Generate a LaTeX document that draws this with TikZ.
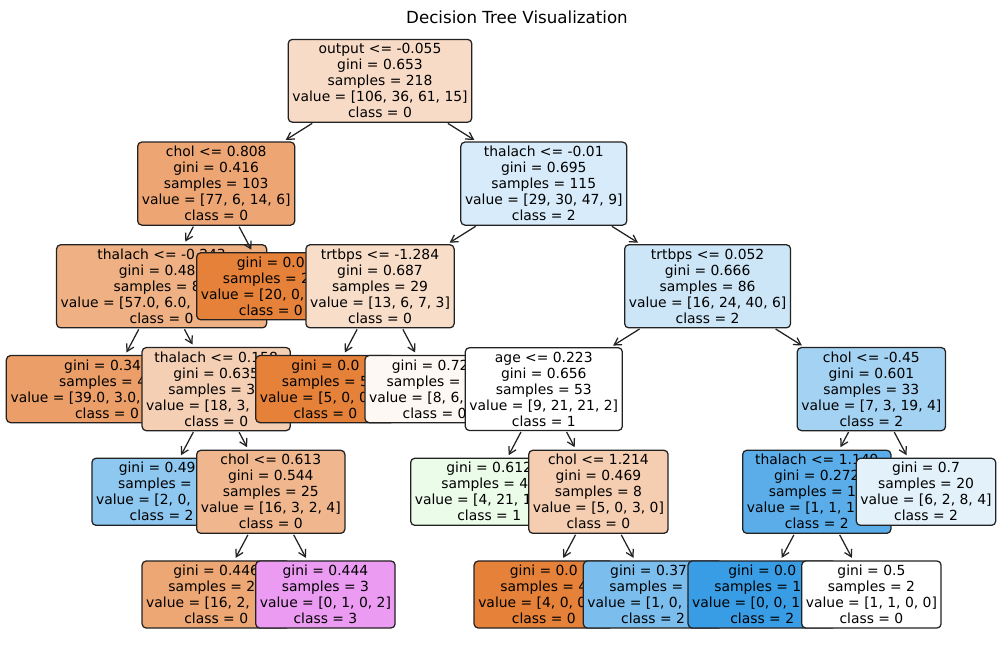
\documentclass[tikz,border=0pt]{standalone}
\usepackage{fontspec}
\setmainfont{DejaVu Sans}
\usetikzlibrary{arrows.meta}
\definecolor{cA}{RGB}{248,219,198}
\definecolor{cB}{RGB}{237,166,115}
\definecolor{cC}{RGB}{215,235,250}
\definecolor{cD}{RGB}{239,177,132}
\definecolor{cOr}{RGB}{229,129,57}
\definecolor{cE}{RGB}{248,221,201}
\definecolor{cF}{RGB}{204,230,248}
\definecolor{cG}{RGB}{235,158,103}
\definecolor{cH}{RGB}{245,207,179}
\definecolor{cI}{RGB}{253,248,243}
\definecolor{cJ}{RGB}{164,210,243}
\definecolor{cK}{RGB}{142,199,240}
\definecolor{cL}{RGB}{240,183,142}
\definecolor{cM}{RGB}{235,252,233}
\definecolor{cN}{RGB}{245,205,176}
\definecolor{cP}{RGB}{90,173,233}
\definecolor{cQ}{RGB}{227,241,251}
\definecolor{cR}{RGB}{237,167,116}
\definecolor{cS}{RGB}{235,156,242}
\definecolor{cT}{RGB}{123,190,238}
\definecolor{cBl}{RGB}{57,157,229}
\definecolor{edgec}{RGB}{34,34,34}
\tikzset{
  tn/.style={draw=edgec, line width=0.9pt, rounded corners=3pt, align=center,
    inner xsep=3pt, inner ysep=3pt, font=\fontsize{10}{11.52}\selectfont},
  edge/.style={draw=edgec, -{Straight Barb[length=5pt,width=5.8pt]}, line width=0.9pt,
    shorten >=2pt, shorten <=0.7pt}
}
\begin{document}
\begin{tikzpicture}[x=0.72pt,y=-0.72pt]
\useasboundingbox (0,0) rectangle (1002,656);
\node[font=\fontsize{12}{14}\selectfont] (title) at (517,17) {Decision Tree Visualization};
% preorder drawing
\node[tn, fill=cA] (n0) at (380,80.8) {output <= -0.055\\gini = 0.653\\samples = 218\\value = [106, 36, 61, 15]\\class = 0};
\node[tn, fill=cB] (n1) at (216.2,183.6) {chol <= 0.808\\gini = 0.416\\samples = 103\\value = [77, 6, 14, 6]\\class = 0};
\node[tn, fill=cD] (n3) at (161.6,286.3) {thalach <= -0.243\\gini = 0.489\\samples = 83\\value = [57.0, 6.0, 14.0, 6.0]\\class = 0};
\node[tn, fill=cG] (n7) at (107,389.1) {gini = 0.347\\samples = 49\\value = [39.0, 3.0, 6.0, 1.0]\\class = 0};
\node[tn, fill=cH] (n8) at (216.2,389.1) {thalach <= 0.158\\gini = 0.635\\samples = 34\\value = [18, 3, 8, 5]\\class = 0};
\node[tn, fill=cK] (n13) at (161.6,491.8) {gini = 0.494\\samples = 9\\value = [2, 0, 6, 1]\\class = 2};
\node[tn, fill=cL] (n14) at (270.8,491.8) {chol <= 0.613\\gini = 0.544\\samples = 25\\value = [16, 3, 2, 4]\\class = 0};
\node[tn, fill=cR] (n19) at (216.2,594.5) {gini = 0.446\\samples = 22\\value = [16, 2, 2, 2]\\class = 0};
\node[tn, fill=cS] (n20) at (325.4,594.5) {gini = 0.444\\samples = 3\\value = [0, 1, 0, 2]\\class = 3};
\node[tn, fill=cOr] (n4) at (270.8,286.3) {gini = 0.0\\samples = 20\\value = [20, 0, 0, 0]\\class = 0};
\node[tn, fill=cC] (n2) at (543.8,183.6) {thalach <= -0.01\\gini = 0.695\\samples = 115\\value = [29, 30, 47, 9]\\class = 2};
\node[tn, fill=cE] (n5) at (380,286.3) {trtbps <= -1.284\\gini = 0.687\\samples = 29\\value = [13, 6, 7, 3]\\class = 0};
\node[tn, fill=cOr] (n9) at (325.4,389.1) {gini = 0.0\\samples = 5\\value = [5, 0, 0, 0]\\class = 0};
\node[tn, fill=cI] (n10) at (434.6,389.1) {gini = 0.726\\samples = 24\\value = [8, 6, 7, 3]\\class = 0};
\node[tn, fill=cF] (n6) at (707.6,286.3) {trtbps <= 0.052\\gini = 0.666\\samples = 86\\value = [16, 24, 40, 6]\\class = 2};
\node[tn, fill=white] (n11) at (543.8,389.1) {age <= 0.223\\gini = 0.656\\samples = 53\\value = [9, 21, 21, 2]\\class = 1};
\node[tn, fill=cM] (n15) at (489.2,491.8) {gini = 0.612\\samples = 45\\value = [4, 21, 18, 2]\\class = 1};
\node[tn, fill=cN] (n16) at (598.4,491.8) {chol <= 1.214\\gini = 0.469\\samples = 8\\value = [5, 0, 3, 0]\\class = 0};
\node[tn, fill=cOr] (n21) at (543.8,594.5) {gini = 0.0\\samples = 4\\value = [4, 0, 0, 0]\\class = 0};
\node[tn, fill=cT] (n22) at (653,594.5) {gini = 0.375\\samples = 4\\value = [1, 0, 3, 0]\\class = 2};
\node[tn, fill=cJ] (n12) at (871.4,389.1) {chol <= -0.45\\gini = 0.601\\samples = 33\\value = [7, 3, 19, 4]\\class = 2};
\node[tn, fill=cP] (n17) at (816.8,491.8) {thalach <= 1.149\\gini = 0.272\\samples = 13\\value = [1, 1, 11, 0]\\class = 2};
\node[tn, fill=cBl] (n23) at (762.2,594.5) {gini = 0.0\\samples = 11\\value = [0, 0, 11, 0]\\class = 2};
\node[tn, fill=white] (n24) at (871.4,594.5) {gini = 0.5\\samples = 2\\value = [1, 1, 0, 0]\\class = 0};
\node[tn, fill=cQ] (n18) at (926,491.8) {gini = 0.7\\samples = 20\\value = [6, 2, 8, 4]\\class = 2};
% connectors
\draw[edge] (n0) -- (n1);
\draw[edge] (n0) -- (n2);
\draw[edge] (n1) -- (n3);
\draw[edge] (n1) -- (n4);
\draw[edge] (n3) -- (n7);
\draw[edge] (n3) -- (n8);
\draw[edge] (n8) -- (n13);
\draw[edge] (n8) -- (n14);
\draw[edge] (n14) -- (n19);
\draw[edge] (n14) -- (n20);
\draw[edge] (n2) -- (n5);
\draw[edge] (n2) -- (n6);
\draw[edge] (n5) -- (n9);
\draw[edge] (n5) -- (n10);
\draw[edge] (n6) -- (n11);
\draw[edge] (n6) -- (n12);
\draw[edge] (n11) -- (n15);
\draw[edge] (n11) -- (n16);
\draw[edge] (n16) -- (n21);
\draw[edge] (n16) -- (n22);
\draw[edge] (n12) -- (n17);
\draw[edge] (n12) -- (n18);
\draw[edge] (n17) -- (n23);
\draw[edge] (n17) -- (n24);
\end{tikzpicture}
\end{document}
